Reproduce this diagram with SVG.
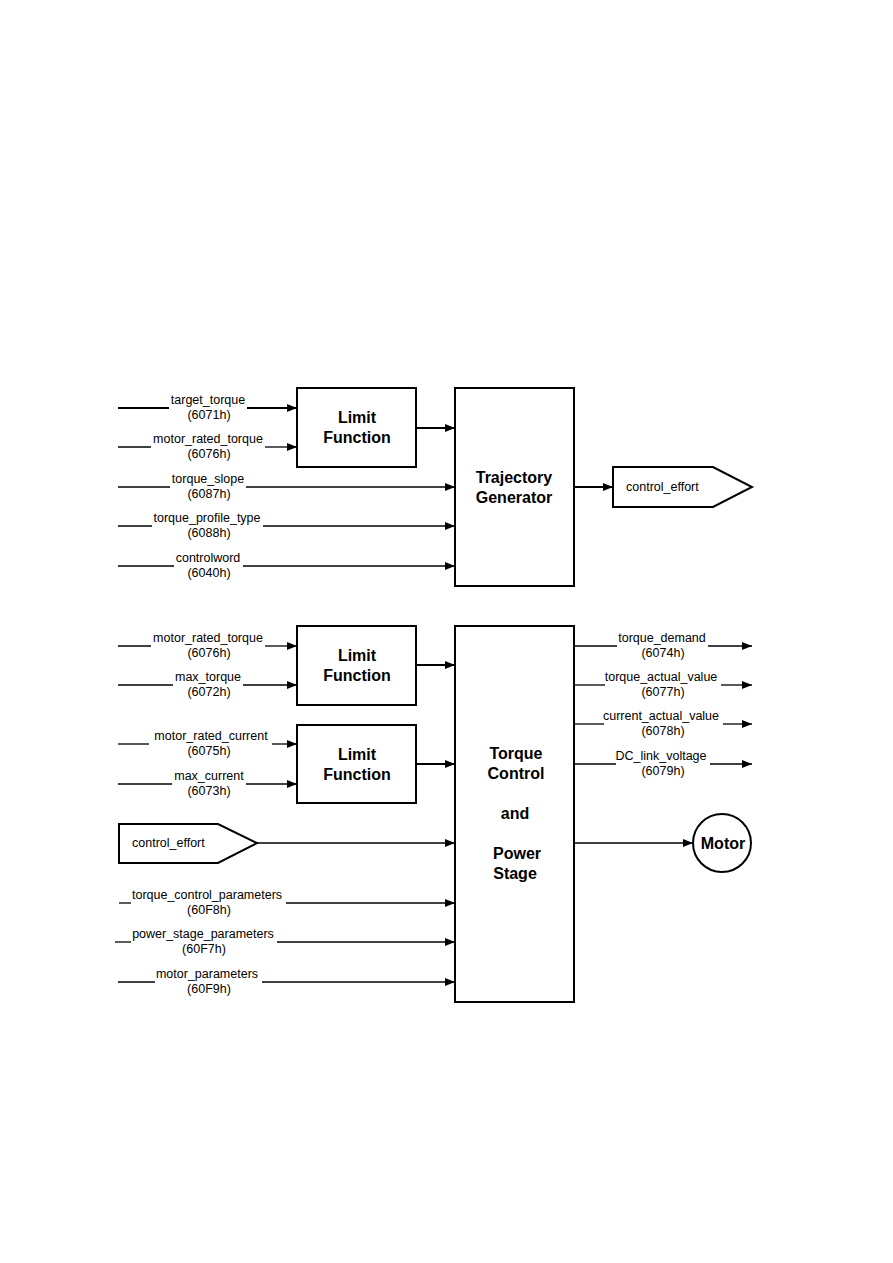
<svg xmlns="http://www.w3.org/2000/svg" width="893" height="1263" viewBox="0 0 893 1263">
<defs>
<marker id="ah" viewBox="0 0 10 8" refX="10" refY="4" markerWidth="10" markerHeight="8" markerUnits="userSpaceOnUse" orient="auto"><path d="M0,0 L10,4 L0,8 Z" fill="#000"/></marker>
<style>
.box{fill:#fff;stroke:#000;stroke-width:2}
.t{font-family:"Liberation Sans",Arial,sans-serif;font-size:12.5px;fill:#000;text-anchor:middle}
.tl{font-family:"Liberation Sans",Arial,sans-serif;font-size:12.5px;fill:#000}
.b{font-family:"Liberation Sans",Arial,sans-serif;font-size:16px;font-weight:bold;fill:#000;text-anchor:middle}
.w{fill:none;stroke:#000;stroke-width:1.3}
.a{fill:none;stroke:#000;stroke-width:1.3;marker-end:url(#ah)}
.a2{fill:none;stroke:#000;stroke-width:2;marker-end:url(#ah)}
</style>
</defs>
<rect width="893" height="1263" fill="#fff"/>

<g id="connectors">
<!-- top inputs -->
<path class="w" d="M118,408 H169" style="stroke-width:2"/><path class="a2" d="M247,408 H297"/>
<path class="w" d="M118,447 H151"/><path class="a" d="M265,447 H297"/>
<path class="w" d="M118,487 H170"/><path class="a" d="M246,487 H455"/>
<path class="w" d="M118,526 H152"/><path class="a" d="M263,526 H455"/>
<path class="w" d="M118,566 H174"/><path class="a" d="M243,566 H455"/>
<path class="a2" d="M416,428 H455"/>
<path class="a2" d="M574,487 H613"/>
<!-- bottom inputs -->
<path class="w" d="M118,646 H151"/><path class="a" d="M265,646 H297"/>
<path class="w" d="M118,685 H173"/><path class="a" d="M243,685 H297"/>
<path class="w" d="M118,744 H149"/><path class="a" d="M272,744 H297"/>
<path class="w" d="M118,784 H172"/><path class="a" d="M246,784 H297"/>
<path class="a2" d="M416,665 H455"/>
<path class="a2" d="M416,764 H455"/>
<path class="a" d="M257,843 H455"/>
<path class="w" d="M119,903 H131"/><path class="a" d="M286,903 H455"/>
<path class="w" d="M115,942 H131"/><path class="a" d="M277,942 H455"/>
<path class="w" d="M118,982 H155"/><path class="a" d="M262,982 H455"/>
<!-- outputs -->
<path class="w" d="M574,646 H617"/><path class="a" d="M708,646 H752"/>
<path class="w" d="M574,685 H605"/><path class="a" d="M721,685 H752"/>
<path class="w" d="M574,724 H604"/><path class="a" d="M723,724 H752"/>
<path class="w" d="M574,764 H616"/><path class="a" d="M710,764 H752"/>
<path class="a" d="M574,843 H693"/>
</g>

<g id="labels">
<text class="t" x="208" y="404">target_torque</text><text class="t" x="209" y="419">(6071h)</text>
<text class="t" x="208" y="443">motor_rated_torque</text><text class="t" x="209" y="458">(6076h)</text>
<text class="t" x="208" y="483">torque_slope</text><text class="t" x="209" y="498">(6087h)</text>
<text class="t" x="207" y="522">torque_profile_type</text><text class="t" x="209" y="537">(6088h)</text>
<text class="t" x="208" y="562">controlword</text><text class="t" x="209" y="577">(6040h)</text>

<text class="t" x="208" y="642">motor_rated_torque</text><text class="t" x="209" y="657">(6076h)</text>
<text class="t" x="208" y="681">max_torque</text><text class="t" x="209" y="696">(6072h)</text>
<text class="t" x="211" y="740">motor_rated_current</text><text class="t" x="209" y="755">(6075h)</text>
<text class="t" x="209" y="780">max_current</text><text class="t" x="209" y="795">(6073h)</text>
<text class="t" x="207" y="899">torque_control_parameters</text><text class="t" x="209" y="914">(60F8h)</text>
<text class="t" x="203" y="938">power_stage_parameters</text><text class="t" x="204" y="953">(60F7h)</text>
<text class="t" x="207" y="978">motor_parameters</text><text class="t" x="209" y="993">(60F9h)</text>

<text class="t" x="662" y="642">torque_demand</text><text class="t" x="663" y="657">(6074h)</text>
<text class="t" x="661" y="681">torque_actual_value</text><text class="t" x="663" y="696">(6077h)</text>
<text class="t" x="661" y="720">current_actual_value</text><text class="t" x="663" y="735">(6078h)</text>
<text class="t" x="661" y="760">DC_link_voltage</text><text class="t" x="663" y="775">(6079h)</text>
</g>

<g id="limit1">
<rect class="box" x="297" y="388" width="119" height="79"/>
<text class="b" x="357" y="423">Limit</text><text class="b" x="357" y="443">Function</text>
</g>
<g id="trajectory">
<rect class="box" x="455" y="388" width="119" height="198"/>
<text class="b" x="514" y="483">Trajectory</text><text class="b" x="514" y="503">Generator</text>
</g>
<g id="control_effort_out">
<path class="box" d="M613,467 H713 L752,487 L713,507 H613 Z"/>
<text class="tl" x="626" y="491">control_effort</text>
</g>
<g id="limit2">
<rect class="box" x="297" y="626" width="119" height="79"/>
<text class="b" x="357" y="661">Limit</text><text class="b" x="357" y="681">Function</text>
</g>
<g id="limit3">
<rect class="box" x="297" y="725" width="119" height="78"/>
<text class="b" x="357" y="760">Limit</text><text class="b" x="357" y="780">Function</text>
</g>
<g id="control_effort_in">
<path class="box" d="M119,824 H218 L257,843 L218,863 H119 Z"/>
<text class="tl" x="132" y="847">control_effort</text>
</g>
<g id="torque_control">
<rect class="box" x="455" y="626" width="119" height="376"/>
<text class="b" x="516" y="759">Torque</text>
<text class="b" x="516" y="779">Control</text>
<text class="b" x="515" y="819">and</text>
<text class="b" x="517" y="859">Power</text>
<text class="b" x="515" y="879">Stage</text>
</g>
<g id="motor">
<circle cx="722" cy="843" r="29" fill="#fff" stroke="#000" stroke-width="2"/>
<text class="b" x="723" y="849">Motor</text>
</g>
</svg>
